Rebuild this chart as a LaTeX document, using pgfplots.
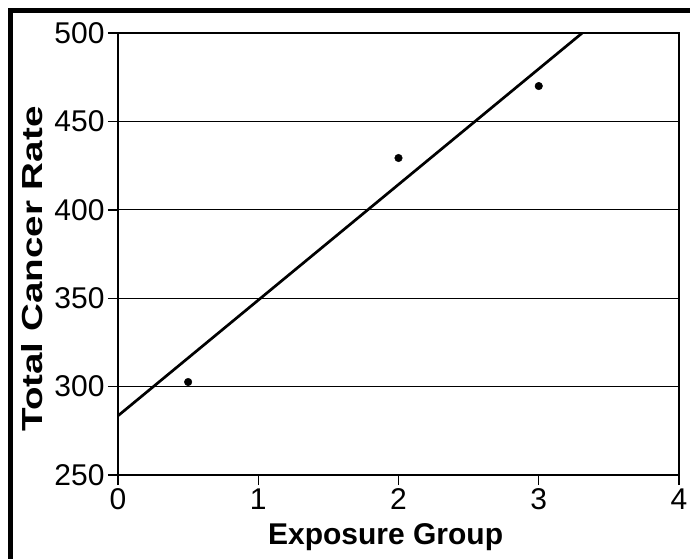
\documentclass[border=0pt]{standalone}
\usepackage{pgfplots}
\pgfplotsset{compat=1.18}
\usepackage{fontspec}
\setmainfont{Liberation Sans}
\begin{document}
\begin{tikzpicture}[x=1pt,y=1pt]
\useasboundingbox (0,0) rectangle (690,558);
\draw[line width=5pt] (10.5,-20) -- (10.5,547.5) -- (720,547.5);
\begin{axis}[
  at={(118pt,83pt)}, anchor=south west,
  scale only axis, width=561pt, height=442pt,
  xmin=0, xmax=4, ymin=250, ymax=500,
  xtick={0,1,2,3,4}, ytick={250,300,350,400,450,500},
  ymajorgrids, grid style={black, line width=1pt},
  axis line style={line width=1.6pt},
  tick align=outside, major tick length=10pt,
  tick style={black, line width=1.4pt},
  tick pos=left,
  every tick label/.append style={font=\fontsize{30}{36}\selectfont},
  /pgf/number format/assume math mode=true,
  xlabel={\fontsize{30}{36}\selectfont\bfseries Exposure Group},
  xlabel style={at={(axis description cs:0.477,-0.1561)}, anchor=base},
  ylabel={\fontsize{29}{34}\selectfont\bfseries\scalebox{1.33}[1]{Total Cancer Rate}},
  ylabel style={at={(axis description cs:-0.1337,0.466)}, anchor=base, rotate=0},
]
\addplot[black, line width=2.7pt] coordinates {(0,283.5) (3.31,500)};
\addplot[only marks, mark=*, mark size=3.8pt, black] coordinates {(0.5,302.6) (2,429.3) (3,470)};
\end{axis}
\end{tikzpicture}
\end{document}
